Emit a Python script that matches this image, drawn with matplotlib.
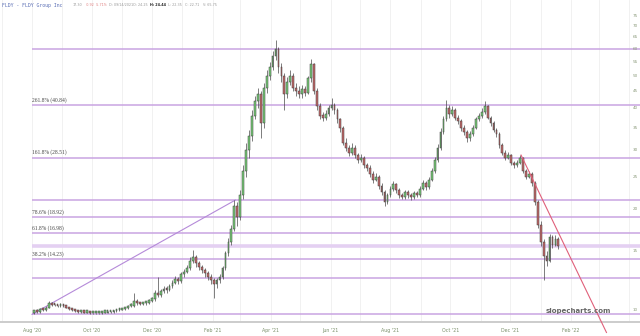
import matplotlib
matplotlib.use("Agg")
import matplotlib.pyplot as plt
import matplotlib.dates as mdates
import matplotlib.transforms as mtransforms
import pandas as pd
import numpy as np

# ---------------- data ----------------
closes = [
    10.0, 9.9, 10.1, 10.0, 10.2, 10.5, 10.4, 10.35, 10.3, 10.4,
    10.3, 10.2, 10.1, 10.0, 9.95, 9.9, 9.9, 9.85, 9.85, 9.8,
    9.8, 9.8, 9.82, 9.85, 9.85, 9.9, 9.9, 9.95, 10.0, 10.05,
    10.1, 10.15, 10.3, 10.4, 10.7, 10.5, 10.45, 10.5, 10.55, 10.7,
    10.8, 11.3, 11.1, 11.4, 11.6, 11.5, 11.8, 12.1, 12.4, 12.2,
    12.8, 13.0, 13.4, 14.0, 14.4, 13.8, 13.5, 13.2, 12.9, 12.6,
    12.3, 12.0, 12.3, 12.6, 13.4, 14.8, 16.0, 17.5, 20.5, 19.0,
    22.0, 26.0, 30.0, 33.0, 38.0, 42.0, 44.0, 36.0, 46.0, 50.0,
    53.0, 57.0, 60.0, 53.0, 50.0, 44.0, 48.0, 50.0, 46.0, 45.0,
    44.0, 45.5, 44.5, 49.0, 54.0, 45.0, 40.5, 38.0, 37.5, 38.5,
    40.0, 41.0, 39.5, 37.0, 35.0, 31.5, 30.5, 29.5, 30.5, 29.0,
    28.0, 28.5, 27.0, 26.5, 25.5, 24.5, 25.0, 23.5, 22.5, 21.0,
    22.0, 23.0, 23.8, 22.8, 22.0, 21.8, 22.5, 22.0, 21.7, 22.3,
    22.0, 23.0, 24.0, 23.3, 24.5, 26.0, 28.0, 30.5, 34.0, 37.0,
    40.0, 38.5, 39.5, 37.5, 36.5, 35.0, 34.0, 32.5, 33.5, 35.0,
    37.0, 38.0, 39.0, 40.5, 37.5, 36.0, 34.5, 33.5, 31.0, 29.5,
    28.5, 29.0, 27.5, 27.0, 27.5, 28.5, 26.0, 25.0, 25.5, 24.0,
    21.0, 18.0, 16.0, 14.5, 14.0, 16.5, 15.7, 16.3, 15.5,
]
opens = [
    9.8, 10.0, 9.9, 10.1, 10.0, 10.2, 10.5, 10.4, 10.35, 10.3,
    10.4, 10.3, 10.2, 10.1, 10.0, 9.95, 9.9, 9.9, 9.85, 9.85,
    9.8, 9.8, 9.8, 9.82, 9.85, 9.85, 9.9, 9.9, 9.95, 10.0,
    10.05, 10.1, 10.15, 10.3, 10.3, 10.7, 10.5, 10.45, 10.5, 10.55,
    10.7, 10.8, 11.3, 11.1, 11.4, 11.6, 11.5, 11.8, 12.1, 12.4,
    12.2, 12.8, 13.0, 13.4, 14.0, 14.4, 13.8, 13.5, 13.2, 12.9,
    12.6, 12.3, 12.0, 12.3, 12.6, 13.4, 14.8, 16.0, 17.5, 20.5,
    19.0, 22.0, 26.0, 30.0, 33.0, 38.0, 42.0, 44.0, 36.0, 46.0,
    50.0, 53.0, 57.0, 60.0, 53.0, 50.0, 44.0, 48.0, 50.0, 46.0,
    45.0, 44.0, 45.5, 44.5, 49.0, 54.0, 45.0, 40.5, 38.0, 37.5,
    38.5, 40.0, 41.0, 39.5, 37.0, 35.0, 31.5, 30.5, 29.5, 30.5,
    29.0, 28.0, 28.5, 27.0, 26.5, 25.5, 24.5, 25.0, 23.5, 22.5,
    21.0, 22.0, 23.0, 23.8, 22.8, 22.0, 21.8, 22.5, 22.0, 21.7,
    22.3, 22.0, 23.0, 24.0, 23.3, 24.5, 26.0, 28.0, 30.5, 34.0,
    37.0, 40.0, 38.5, 39.5, 37.5, 36.5, 35.0, 34.0, 32.5, 33.5,
    35.0, 37.0, 38.0, 39.0, 40.5, 37.5, 36.0, 34.5, 33.5, 31.0,
    29.5, 28.5, 29.0, 27.5, 27.0, 27.5, 28.5, 26.0, 25.0, 25.5,
    24.0, 21.0, 18.0, 16.0, 14.5, 14.0, 16.5, 15.7, 16.3,
]
highs = [
    10.05, 10.1, 10.15, 10.15, 10.3, 10.7, 10.6, 10.45, 10.4, 10.5,
    10.45, 10.35, 10.25, 10.15, 10.05, 10.0, 9.95, 9.95, 9.9, 9.9,
    9.85, 9.85, 9.86, 9.9, 9.9, 9.95, 9.95, 10.0, 10.05, 10.1,
    10.15, 10.2, 10.35, 10.5, 11.3, 10.8, 10.6, 10.6, 10.65, 10.8,
    10.95, 11.5, 12.6, 11.6, 11.8, 11.8, 12.0, 12.3, 12.7, 12.6,
    13.0, 13.3, 13.7, 14.4, 15.1, 14.6, 14.0, 13.7, 13.4, 13.1,
    12.8, 12.5, 12.5, 12.8, 13.6, 15.0, 16.4, 18.0, 21.3, 21.0,
    22.8, 27.0, 31.5, 34.5, 39.5, 43.5, 46.0, 45.0, 47.5, 52.0,
    55.0, 59.0, 64.0, 61.0, 54.5, 51.0, 49.5, 52.0, 51.0, 47.5,
    46.5, 47.0, 46.5, 50.0, 56.0, 54.5, 46.0, 41.5, 39.0, 39.5,
    41.0, 43.0, 41.5, 40.0, 37.5, 35.5, 32.5, 31.0, 31.5, 31.0,
    29.5, 29.3, 28.8, 27.5, 27.0, 26.0, 25.6, 25.3, 24.0, 22.8,
    22.4, 23.5, 24.3, 24.0, 23.1, 22.4, 22.9, 22.8, 22.3, 22.6,
    22.6, 23.4, 24.5, 24.3, 25.0, 26.6, 28.7, 31.2, 34.8, 38.0,
    42.3, 41.0, 40.5, 40.0, 38.2, 37.0, 35.6, 34.5, 34.2, 35.6,
    37.6, 38.8, 40.0, 42.0, 41.0, 38.0, 36.5, 35.0, 34.0, 31.5,
    30.0, 29.6, 29.3, 27.9, 28.0, 29.0, 28.7, 26.3, 26.0, 25.8,
    24.3, 21.3, 18.4, 16.3, 15.0, 16.9, 16.8, 16.8, 16.5,
]
lows = [
    9.75, 9.85, 9.85, 9.95, 9.95, 10.15, 10.3, 10.3, 10.25, 10.25,
    10.25, 10.15, 10.05, 9.95, 9.9, 9.85, 9.85, 9.8, 9.8, 9.76,
    9.76, 9.76, 9.77, 9.78, 9.8, 9.8, 9.85, 9.85, 9.9, 9.95,
    10.0, 10.05, 10.1, 10.25, 10.25, 10.4, 10.35, 10.4, 10.4, 10.45,
    10.6, 10.7, 11.0, 11.0, 11.3, 11.3, 11.4, 11.7, 12.0, 12.0,
    12.1, 12.6, 12.9, 13.2, 13.8, 13.5, 13.2, 12.9, 12.6, 12.3,
    12.0, 10.9, 11.7, 12.1, 12.4, 13.2, 14.5, 15.7, 17.2, 17.8,
    18.6, 21.5, 25.0, 28.5, 32.0, 37.0, 40.0, 32.5, 35.0, 44.5,
    48.5, 52.0, 55.5, 51.0, 48.0, 39.5, 43.0, 47.0, 45.0, 43.5,
    43.0, 43.0, 43.5, 44.0, 48.0, 44.0, 39.5, 37.0, 36.5, 36.8,
    37.8, 39.5, 38.5, 36.0, 34.0, 31.0, 29.8, 28.8, 29.0, 28.5,
    27.5, 27.6, 26.5, 26.0, 25.0, 24.0, 24.2, 23.0, 22.0, 20.5,
    20.8, 21.7, 22.7, 22.4, 21.6, 21.4, 21.5, 21.6, 21.3, 21.5,
    21.7, 21.8, 22.8, 22.9, 23.0, 24.2, 25.6, 27.6, 30.0, 33.5,
    36.5, 37.5, 38.0, 36.8, 35.8, 34.3, 33.3, 31.8, 32.0, 33.0,
    34.6, 36.5, 37.5, 38.5, 37.0, 35.3, 34.0, 32.8, 30.5, 29.0,
    28.0, 28.2, 27.0, 26.6, 26.7, 27.2, 25.6, 24.6, 24.7, 23.5,
    20.6, 17.6, 15.5, 12.3, 13.6, 13.9, 15.3, 15.5, 15.2,
]
start_date = "2020-08-03"

fib_levels = [9.74, 12.47, 14.23, 15.55, 16.98, 18.92, 21.36, 28.51, 40.84, 59.9]
fib_labels = ["", "", "38.2% (14.23)", "", "61.8% (16.98)", "78.6% (18.92)",
              "", "161.8% (28.51)", "261.8% (40.84)", ""]
fib_is_mid = [False, False, False, True, False, False, False, False, False, False]

up_trend_dates = ["2020-08-01", "2021-02-24"]
up_trend_prices = [9.74, 21.3]
down_trend_dates = ["2021-12-12", "2022-03-09"]
down_trend_prices = [29.0, 8.6]

xtick_dates = ["2020-08-01", "2020-10-01", "2020-12-01", "2021-02-01", "2021-04-01",
               "2021-06-01", "2021-08-01", "2021-10-01", "2021-12-01", "2022-02-01"]
xtick_labels = ["Aug '20", "Oct '20", "Dec '20", "Feb '21", "Apr '21",
                "Jun '21", "Aug '21", "Oct '21", "Dec '21", "Feb '22"]
ytick_values = [10, 15, 20, 25, 30, 35, 40, 45, 50, 55, 60, 65, 70, 75]

# ---------------- figure ----------------
W, H = 640, 336
fig = plt.figure(figsize=(W / 100, H / 100), dpi=100)
fig.patch.set_facecolor("white")
ax = fig.add_axes([0, 14 / H, 1, 322 / H])
ax.set_facecolor("white")
ax.set_yscale("log")
ax.set_ylim(9.24, 83.9)

base = mdates.date2num(pd.Timestamp("2020-08-01"))
px_per_day = 0.982
ax.set_xlim(base - 32 / px_per_day, base + 608 / px_per_day)

# month gridlines
months = pd.date_range("2020-07-01", "2022-04-01", freq="MS")
for m in months:
    ax.axvline(mdates.date2num(m), color="#efefef", lw=0.6, zorder=0)

# fib lines
fib_x0 = mdates.date2num(pd.Timestamp("2020-08-01"))
xr = ax.get_xlim()[1]
for lvl, lab, mid in zip(fib_levels, fib_labels, fib_is_mid):
    if mid:
        ax.hlines(lvl, fib_x0, xr, color="#e4d0f2", lw=2.6, zorder=1)
    else:
        ax.hlines(lvl, fib_x0, xr, color="#c9a4e2", lw=1.1, zorder=1)
    if lab:
        ax.annotate(lab, (fib_x0, lvl), xytext=(0, 1.6), textcoords="offset points",
                    ha="left", va="bottom", fontsize=4.0, color="#444444",
                    family="Liberation Serif", zorder=5)

# trend lines
ax.plot(mdates.date2num(pd.to_datetime(up_trend_dates)), up_trend_prices,
        color="#b58ad9", lw=0.8, zorder=2)
ax.plot(mdates.date2num(pd.to_datetime(down_trend_dates)), down_trend_prices,
        color="#e0607a", lw=0.8, zorder=6, clip_on=False)

# candles
dates = mdates.date2num(pd.date_range(start_date, periods=len(closes), freq="3D"))
o = np.array(opens); c = np.array(closes); h = np.array(highs); l = np.array(lows)
ax.vlines(dates, l, h, color="#4a4a4a", lw=0.5, zorder=3)
up = c >= o
bottoms = np.minimum(o, c)
heights = np.maximum(np.abs(c - o), 0.015 * bottoms)
ax.bar(dates[up], heights[up], bottom=bottoms[up], width=1.8, color="#78cc78",
       edgecolor="#3c3c3c", linewidth=0.35, zorder=4)
ax.bar(dates[~up], heights[~up], bottom=bottoms[~up], width=1.8, color="#c46a6a",
       edgecolor="#3c3c3c", linewidth=0.35, zorder=4)

# axes styling
for s in ["left", "right", "top"]:
    ax.spines[s].set_visible(False)
ax.spines["bottom"].set_color("#cccccc")
ax.spines["bottom"].set_linewidth(1.4)
ax.set_yticks([])
ax.yaxis.set_minor_locator(matplotlib.ticker.NullLocator())
ax.set_xticks(mdates.date2num(pd.to_datetime(xtick_dates)))
ax.set_xticklabels(xtick_labels)
ax.tick_params(axis="x", length=0, pad=4.5, labelsize=3.4, labelcolor="#7a8f6a")

trans = mtransforms.blended_transform_factory(ax.transAxes, ax.transData)
for v in ytick_values:
    ax.text(635 / W, v, str(v), transform=trans, ha="center", va="center",
            fontsize=3.0, color="#8a9a7a", zorder=5)

# watermark
fig.text(578 / W, 1 - 311 / H, "slopecharts.com", ha="center", va="center",
         fontsize=5.0, fontweight="bold", color="#666666")

# header
hy = 1 - 5 / H
parts = [
    (2, "FLDY - FLDY Group Inc", "#5b6fb5", "normal", "DejaVu Sans Mono", 3.5),
    (73, "17.30", "#999999", "normal", "DejaVu Sans", 2.4),
    (86, "-0.92", "#e08080", "normal", "DejaVu Sans", 2.4),
    (96, "-5.71%", "#e08080", "normal", "DejaVu Sans", 2.4),
    (109, "D: 09/14/2021", "#999999", "normal", "DejaVu Sans", 2.4),
    (133, "O: 24.25", "#999999", "normal", "DejaVu Sans", 2.4),
    (150, "H: 24.44", "#222222", "bold", "DejaVu Sans", 2.4),
    (168, "L: 22.35", "#999999", "normal", "DejaVu Sans", 2.4),
    (185, "C: 22.71", "#999999", "normal", "DejaVu Sans", 2.4),
    (203, "V: 65.75", "#999999", "normal", "DejaVu Sans", 2.4),
]
for x, t, col, fw, fam, fs in parts:
    fig.text(x / W, hy, t, ha="left", va="center", fontsize=fs, color=col,
             fontweight=fw, family=fam)

fig.savefig("out.png", dpi=100)
